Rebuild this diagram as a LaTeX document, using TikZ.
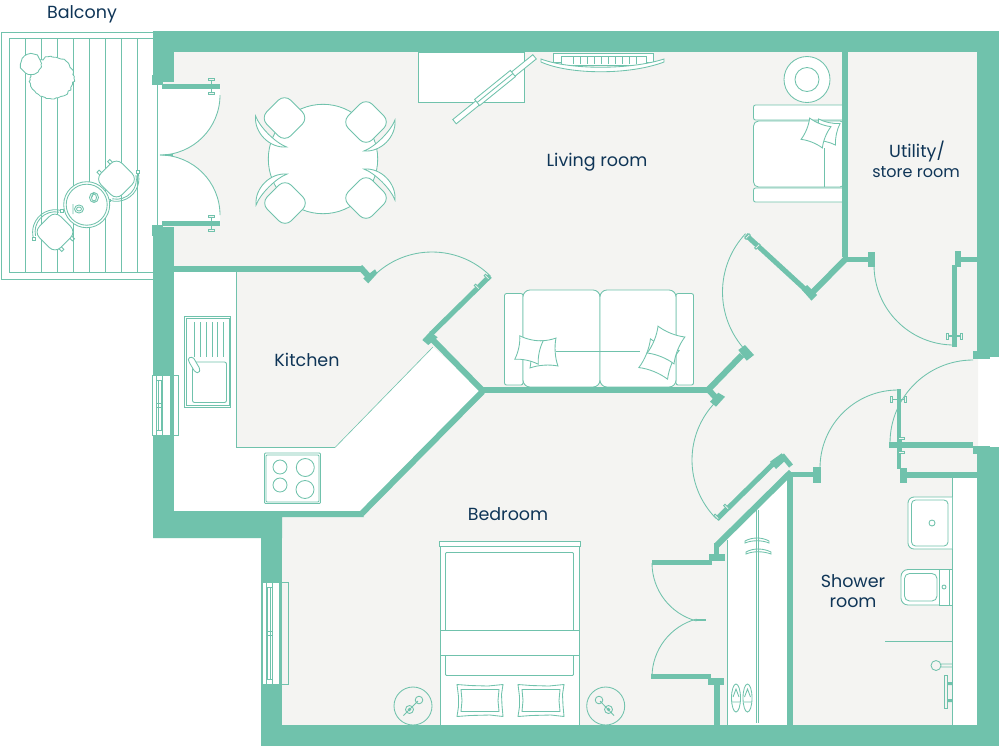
\documentclass[tikz,border=0pt]{standalone}
\usepackage{fontspec}
\setmainfont{Poppins}
\usetikzlibrary{decorations.pathmorphing}
\definecolor{wall}{HTML}{70C2AC}
\definecolor{floorgrey}{HTML}{F4F4F2}
\definecolor{labelblue}{HTML}{0F3557}
\tikzset{
  plan/.style={draw=wall,line width=.85pt},
  furn/.style={draw=wall,fill=white,line width=.85pt},
  wallfill/.style={fill=wall},
  wallline/.style={draw=wall,line width=#1},
  roomlabel/.style={text=labelblue,font=\fontsize{17.5}{20}\selectfont,inner sep=0pt,align=center},
  cushion/.pic={\draw[furn] (-10,-10) .. controls (-4,-8.3) and (4,-8.3) .. (10,-10)
     .. controls (8.3,-4) and (8.3,4) .. (10,10) .. controls (4,8.3) and (-4,8.3) .. (-10,10)
     .. controls (-8.3,4) and (-8.3,-4) .. (-10,-10) -- cycle;},
  pillow/.pic={\draw[furn] (-23,-16) -- (-10,-15) -- (10,-14.5) -- (23,-16) -- (22,-5) -- (21.5,6) -- (23,16)
     -- (8,14.5) -- (-10,15) -- (-23,16) -- (-21.5,4) -- (-21.5,-6) -- cycle;
     \draw[plan] (-19,-11) -- (19,-11) -- (18,0) -- (19,11) -- (-19,11) -- (-18,0) -- cycle;},
  diningchair/.pic={
     \draw[furn] (-22,-19) .. controls (-11,-32) and (11,-32) .. (22,-19)
        .. controls (11,-24) and (-11,-24) .. (-22,-19) -- cycle;
     \draw[furn,rounded corners=9pt] (-17,-17) rectangle (17,17);},
  patiochair/.pic={
     \draw[plan] (-17,-11) arc[start angle=-147,end angle=-33,radius=20];
     \draw[plan] (-20,-10) arc[start angle=-153,end angle=-27,radius=22.5];
     \draw[furn,rounded corners=8pt] (-15,-15) rectangle (15,15);
     \draw[furn] (-20,-10) circle (1.8);
     \draw[furn] (20,-10) circle (1.8);
     \draw[plan] (-9,15) -- (-9,18.5) -- (-6,18.5) -- (-6,15) (6,15) -- (6,18.5) -- (9,18.5) -- (9,15);},
  knob/.pic={
     \draw[wallline=1.8pt] (-7,0) -- (7,0);
     \draw[plan,fill=floorgrey] (-8,-3) rectangle (-6,3);
     \draw[plan,fill=floorgrey] (6,-3) rectangle (8,3);},
}
\begin{document}
\begin{tikzpicture}[x=1pt,y=1pt,yscale=-1]
\useasboundingbox (0,0) rectangle (1000,748);

% balcony
\draw[plan] (1.5,32.5) rectangle (153,279.5);
\draw[plan] (9.5,38.5) rectangle (153,272.5);
\foreach \bx in {25.5,41.5,57.5,73.5,89.5,105,121.5,137.5}
  \draw[plan] (\bx,38.5) -- (\bx,272.5);
\draw[furn,decorate,decoration={random steps,segment length=2.5pt,amplitude=1.1pt}] (52,78) ellipse (22 and 21);
\draw[furn,decorate,decoration={random steps,segment length=3pt,amplitude=.8pt}] (31,64) ellipse (10 and 10);
\path (116.5,179) pic[rotate=45] {patiochair};
\path (55,232) pic[rotate=-135] {patiochair};
\draw[furn] (86.7,204.7) circle (23);
\draw[plan] (86.7,204.7) circle (20.5);
\draw[plan] (94,197.5) ellipse (4.5 and 5) (94,197.5) ellipse (2.5 and 3.5) (94,192) -- (92,197);
\draw[plan] (73,204) -- (73,214) (79,209) ellipse (4.5 and 4) (79,209) ellipse (2.5 and 2);

% floor and white areas
\fill[floorgrey] (153,31) -- (978,31) -- (978,746) -- (262,746) -- (262,538) -- (153,538) -- cycle;
\fill[white] (174,272) -- (236,272) -- (236,447.5) -- (335,447.5) -- (433,347) -- (482,391) -- (361,513) -- (174,513) -- cycle;
\draw[plan] (236,272) -- (236,447.5) -- (335,447.5);
\draw[draw=wall,line width=.6pt] (335,447.5) -- (433,347);
\fill[white] (153,85) -- (220,85) -- (220,95) arc[start angle=0,end angle=90,radius=60]
   arc[start angle=-90,end angle=0,radius=60] -- (220,225) -- (153,225) -- cycle;
\draw[plan] (157,85) -- (157,225);
\draw[plan] (220,95) arc[start angle=0,end angle=90,radius=60];
\draw[plan] (220,215) arc[start angle=0,end angle=-90,radius=60];
\draw[wallline=1.5pt] (165,155) -- (173,155);
\fill[white] (727,540) -- (788,479) -- (788,725) -- (727,725) -- cycle;
\draw[plan] (727,540) -- (727,725);
\draw[plan] (756.5,510) -- (756.5,723) (758.5,510) -- (758.5,723);
\fill[white] (952,477) rectangle (977,725);
\draw[plan] (952,477) -- (952,725);

% dining table
\draw[furn] (323,159) circle (54.7);
\path (284.5,118) pic[rotate=-45] {diningchair};
\path (366,122) pic[rotate=45] {diningchair};
\path (285,203) pic[rotate=-135] {diningchair};
\path (366,198) pic[rotate=135] {diningchair};

% tv unit, mirror and heater on the top wall
\draw[furn] (418.5,52) rectangle (524,102);
\draw[furn,rotate around={-39:(494.5,89.2)}] (443,86.5) rectangle (546,92);
\draw[furn,rotate around={-39:(495,88)}] (472,84) rectangle (518,92);
\draw[plan,rotate around={-39:(495,88)}] (472,88) -- (518,88);
\draw[furn] (553,53) rectangle (653,62);
\draw[furn] (561,56.5) rectangle (646,65);
\foreach \tx in {573,580,...,638}
  \draw[plan] (\tx,57) -- (\tx,64);
\draw[furn] (541,59) .. controls (570,70) and (630,70) .. (664,59) -- (664,62)
   .. controls (630,75) and (570,75) .. (541,62) -- cycle;

% armchair and side table
\draw[furn] (807,79.5) circle (23);
\draw[plan] (807,79.5) circle (12);
\draw[furn,rounded corners=2pt] (753.5,105) rectangle (845,120);
\draw[furn,rounded corners=5pt] (753.5,121) rectangle (845,187);
\draw[furn,rounded corners=2pt] (753.5,188) rectangle (845,202);
\draw[plan] (824,148) -- (824,187);
\path (827,132) pic[rotate=-12,scale=1.1] {cushion};
\path (816,133) pic[rotate=-22,scale=1.15] {cushion};

% sofa
\draw[furn,rounded corners=2pt] (504.5,293.5) rectangle (523,385);
\draw[furn,rounded corners=2pt] (676,293.5) rectangle (693.5,385);
\draw[furn,rounded corners=7pt] (523,290) -- (600,290) -- (600,387) -- (523,387) -- cycle;
\draw[furn,rounded corners=7pt] (600,290) -- (676,290) -- (676,387) -- (600,387) -- cycle;
\draw[plan] (556,351) -- (640,351);
\path (543,353) pic[rotate=4,scale=1.4] {cushion};
\path (529,350) pic[rotate=-12,scale=1.2] {cushion};
\path (659,359) pic[rotate=-22,scale=1.55] {cushion};
\path (666,345) pic[rotate=-22,scale=1.45] {cushion};

% kitchen fittings
\draw[plan] (184,316) rectangle (230.5,407.5);
\draw[plan] (186,318) rectangle (229,405);
\draw[plan,rounded corners=2pt] (192.5,362) rectangle (226.5,402.5);
\foreach \dx in {194.5,200,206,212,217.5,223.5}
  \draw[plan] (\dx,322) -- (\dx,356.5);
\draw[furn,rounded corners=1.5pt] (188,358) -- (193,357) -- (200,369) -- (199,373) -- (195,372) -- (189,362) -- cycle;
\draw[plan,rounded corners=1pt] (264.5,453) rectangle (320.5,503.5);
\draw[plan,rounded corners=1pt] (266,455) rectangle (319,502);
\draw[plan] (280,467) circle (7) (280,485) circle (7) (305.3,467.5) circle (9) (305,489.5) circle (9);

% bed and bedside tables
\draw[furn] (440.5,546) rectangle (579.5,725);
\draw[furn] (439.5,541.5) rectangle (580.5,546.5);
\draw[plan,rounded corners=1pt] (445.5,552.5) rectangle (573.5,675.5);
\draw[furn] (440.5,630.5) rectangle (579.5,655.5);
\path (480,700.5) pic {pillow};
\path (541,700.5) pic {pillow};
\draw[plan] (413,706) circle (19) (605.7,706) circle (19);
\draw[plan] (403.5,715.5) -- (418,701) (419,700) circle (3.8) (409.5,709.5) circle (4);
\fill[wall] (409.5,709.5) circle (1.8) (608.5,709.5) circle (1.8);
\draw[plan] (614,715.5) -- (600,701) (599,700) circle (3.8) (608.5,709.5) circle (4);

% wardrobe hangers and shoes
\draw[plan] (745,541) .. controls (752,537) and (762,537) .. (769,541) -- (769,543)
   .. controls (762,540) and (752,540) .. (745,543) -- cycle;
\draw[plan] (746,552) .. controls (753,548) and (763,548) .. (771,552) -- (771,554)
   .. controls (763,551) and (753,551) .. (746,554) -- cycle;
\foreach \sx in {736,747.5}{
  \draw[plan] (\sx,698) ellipse (4.5 and 14);
  \draw[plan] (\sx-3,697) -- (\sx,689) -- (\sx+3,697) (\sx-4,702) -- (\sx+4,702);
}

% bathroom fittings
\draw[plan,rounded corners=6pt,fill=white] (952,497) -- (908,497) -- (908,549) -- (952,549);
\draw[plan,rounded corners=4pt] (948,500) -- (911.5,500) -- (911.5,546) -- (948,546) -- cycle;
\draw[plan] (932,523) circle (3);
\draw[plan,rounded corners=7pt,fill=white] (940,569.5) -- (901,569.5) -- (901,605) -- (940,605);
\draw[plan,rounded corners=5pt] (904.5,573.5) rectangle (937,601);
\draw[furn] (939,569) rectangle (949,605) (949,569) rectangle (952,605);
\draw[plan] (944,587) circle (2);
\draw[plan] (885,641.5) -- (952,641.5);
\draw[plan] (936,665.5) circle (5) (941,664) -- (952,664) (941,667) -- (952,667);
\draw[plan] (944,675) rectangle (947.5,708);
\fill[wall] (947.5,682) rectangle (952,685) (947.5,699) rectangle (952,702);

% outer walls
\fill[wallfill] (153,31) rectangle (999,52);
\fill[wallfill] (153,31) rectangle (174,82);
\fill[wallfill] (152,75) rectangle (163,85);
\fill[wallfill] (153,227) rectangle (174,538);
\fill[wallfill] (152,225) rectangle (163,236);
\fill[wallfill] (153,511) -- (360,511) -- (364,517) -- (282,517) -- (282,538) -- (153,538) -- cycle;
\fill[wallfill] (261,517) rectangle (282,746);
\fill[wallfill] (261,725) rectangle (999,746);
\fill[wallfill] (977,31) rectangle (999,357);
\fill[wallfill] (973,351) rectangle (990,359);
\fill[wallfill] (977,447) rectangle (999,725);
\fill[wallfill] (973,446) rectangle (990,454);

% inner walls and door leaves
\fill[wallfill] (162,84) rectangle (220,89);
\fill[wallfill] (162,221) rectangle (220,226);
\fill[wallfill] (174,266) rectangle (362,272);
\draw[wallline=6pt] (360,267) -- (371,279);
\fill[wallfill] (363.3,278.3) -- (375,269.3) -- (377.3,273.3) -- (368.3,283.3) -- cycle;
\draw[wallline=6pt] (361.5,513.8) -- (482.5,391.5);
\draw[wallline=6pt] (484,392) -- (432,339);
\fill[wallfill] (422.3,340) -- (430,331.7) -- (437.7,337.3) -- (428.3,345) -- cycle;
\draw[wallline=5pt] (431,334) -- (490,276);
\fill[wallfill] (482,386.7) rectangle (709,392.7);
\draw[wallline=6pt] (707,391) -- (742,355);
\fill[wallfill] (738.3,350) -- (745,345) -- (754,355) -- (746.7,360.7) -- cycle;
\draw[wallline=6pt] (707,388) -- (717,399);
\fill[wallfill] (710,401.7) -- (718.3,392.7) -- (725,396.7) -- (716,406.7) -- cycle;
\fill[wallfill] (841.5,52) rectangle (847.5,257);
\fill[wallfill] (843,257) rectangle (868,262);
\fill[wallfill] (867.5,252) rectangle (874.5,267);
\draw[wallline=6pt] (846.5,258) -- (810,295);
\fill[wallfill] (802,290) -- (807,285) -- (817,295) -- (811.5,300.7) -- cycle;
\draw[wallline=5pt] (807,291) -- (746,235);
\fill[wallfill] (955,251) rectangle (961,267);
\fill[wallfill] (961,257) rectangle (977,262);
\fill[wallfill] (952,265) rectangle (956.5,347);
\fill[wallfill] (896.7,389) rectangle (900.7,469);
\fill[wallfill] (889,442) rectangle (973,447.7);
\fill[wallfill] (900,472) rectangle (977,477.5);
\fill[wallfill] (899.5,468) rectangle (906.5,483);
\fill[wallfill] (787,472) rectangle (793,725);
\fill[wallfill] (790,471.7) rectangle (813,477.3);
\fill[wallfill] (813,467) rectangle (821,483);
\draw[wallline=5pt] (775,462) -- (717,519);
\fill[wallfill] (770,461.7) -- (781.7,453.3) -- (786.7,459.3) -- (776,469) -- cycle;
\draw[wallline=5pt] (782,455) -- (791,466);
\draw[wallline=6pt] (791,472) -- (716,546);
\fill[wallfill] (714,543) rectangle (719,556);
\fill[wallfill] (709,554) rectangle (725,561);
\fill[wallfill] (652,560) rectangle (712,565);
\fill[wallfill] (651,674) rectangle (711,679);
\fill[wallfill] (708,678) rectangle (724,685);
\fill[wallfill] (714,685) rectangle (720,725);

% door swings
\draw[plan] (432,335) ++(-45:83) arc[start angle=-45,end angle=-135,radius=83];
\draw[plan] (808,292) ++(223:85.5) arc[start angle=223,end angle=137,radius=85.5];
\draw[plan] (954,265) ++(180:80) arc[start angle=180,end angle=90,radius=80];
\draw[plan] (775,460) ++(135:83) arc[start angle=135,end angle=225,radius=83];
\draw[plan] (898,468) ++(180:78) arc[start angle=180,end angle=270,radius=78];
\draw[plan] (973,443) ++(180:83) arc[start angle=180,end angle=270,radius=83];
\draw[plan] (712,563) ++(180:60) arc[start angle=180,end angle=105,radius=60];
\draw[plan] (712,677) ++(180:60) arc[start angle=180,end angle=255,radius=60];
\draw[wallline=1.2pt] (696,620) -- (706,620);

% door handles
\foreach \hx/\hy/\ha in {211.5/86.5/90,211.5/223.5/90,482/282/45,752.5/241.5/-45,954/336/0,898.5/399.5/0,901.5/445/90,721.5/512/45}
  \path (\hx,\hy) pic[rotate=\ha] {knob};

% windows
\foreach \wx/\wt/\wb in {152.5/375.5/435.5,262/582.5/684.5}{
  \fill[white] (\wx,\wt) rectangle (\wx+17,\wb);
  \draw[plan] (\wx,\wt) rectangle (\wx+26,\wb);
  \draw[plan] (\wx+4,\wt) -- (\wx+4,\wb) (\wx+10,\wt) -- (\wx+10,\wb);
  \draw[plan] (\wx+5.5,\wt+5) -- (\wx+5.5,\wb-5) (\wx+8.5,\wt+5) -- (\wx+8.5,\wb-5);
  \draw[plan] (\wx+4,\wt+5) -- (\wx+10,\wt+5) (\wx+4,\wb-5) -- (\wx+10,\wb-5);
  \draw[plan] (\wx+4,0.5*\wt+0.5*\wb-2) -- (\wx+10,0.5*\wt+0.5*\wb-2) (\wx+4,0.5*\wt+0.5*\wb+2) -- (\wx+10,0.5*\wt+0.5*\wb+2);
}
\draw[plan] (172,375.5) -- (172,435.5);

% labels
\node[roomlabel] (balcony) at (82,14) {Balcony};
\node[roomlabel] (living) at (597,162) {Living room};
\node[roomlabel] (kitchen) at (307,360) {Kitchen};
\node[roomlabel] (bedroom) at (508,514) {Bedroom};
\node[roomlabel] (utility) at (917,152) {Utility/};
\node[roomlabel,font=\fontsize{16}{18}\selectfont] (store) at (916,172) {store room};
\node[roomlabel] (shower) at (853,591) {Shower\\room};
\end{tikzpicture}
\end{document}
